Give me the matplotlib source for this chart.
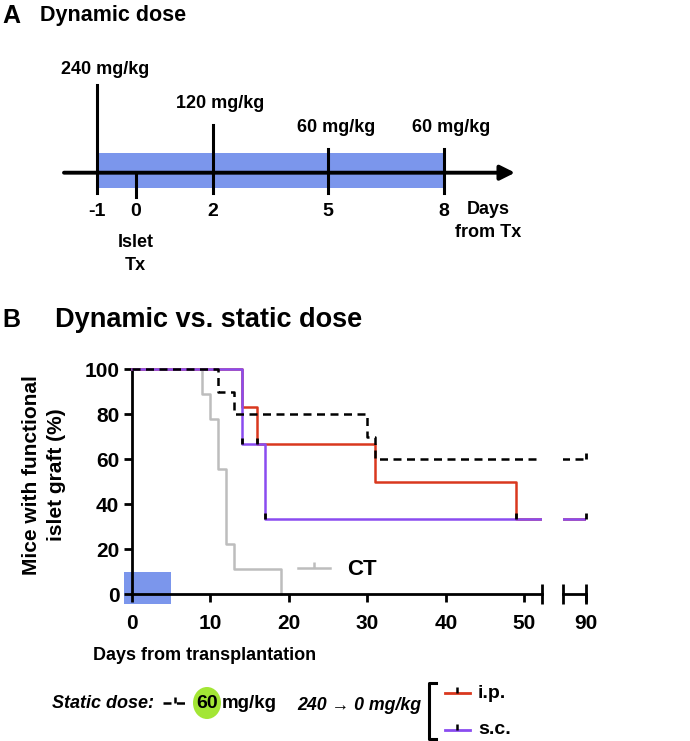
"""
Dynamic dose schedule (A) + Kaplan-Meier style graft survival (B)
"""
import matplotlib
matplotlib.use("Agg")
import matplotlib.pyplot as plt
from matplotlib.path import Path
from matplotlib.lines import Line2D
from matplotlib.patches import Ellipse, Rectangle

plt.rcParams['font.family'] = ['Liberation Sans', 'DejaVu Sans']
plt.rcParams['font.weight'] = 'bold'

# ---- data ----
# A: dosing schedule
dose_days = [-1, 2, 5, 8]
dose_values = [240, 120, 60, 60]
tx_day = 0
schedule_ticks = [-1, 0, 2, 5, 8]

# B: survival curves (step, % mice with functional graft)
ct_days = [0, 9, 10, 11, 12, 13, 19]
ct_surv = [100, 88.9, 77.8, 55.6, 22.2, 11.1, 0]
static_days = [0, 11, 13, 30, 31, 90]
static_surv = [100, 90, 80, 70, 60, 60]
ip_days = [0, 14, 16, 31, 49, 90]
ip_surv = [100, 83.3, 66.7, 50, 33.3, 33.3]
sc_days = [0, 14, 17, 90]
sc_surv = [100, 66.7, 33.3, 33.3]
# censored marks
static_cens = ([90], [60])
ip_cens = ([16, 49], [66.7, 33.3])
sc_cens = ([14, 17, 90], [66.7, 33.3, 33.3])
treat_window = (-1, 5)

x_ticks = [0, 10, 20, 30, 40, 50]
y_ticks = [0, 20, 40, 60, 80, 100]

# ---- style ----
BLUE = '#7b96ec'
RED = '#d9381e'
PURPLE = '#8a4cf0'
GRAY = '#bdbdbd'
GREEN = '#a3e635'
W, H = 690, 741

UPTICK = Path([(0, 0), (0, 1)])


def fx(x):
    return x / W


def fy(y):
    return 1 - y / H


fig = plt.figure(figsize=(W / 100, H / 100), dpi=100)

# ================= panel A =================
fig.text(fx(2), fy(16), 'A', fontsize=18, va='center', ha='left')
fig.text(fx(40), fy(16), 'Dynamic dose', fontsize=15.5, va='center', ha='left')

axa = fig.add_axes([0, fy(300), 1, 300 / H])
px_day = 38.5
x0 = -1 - 97 / px_day
axa.set_xlim(x0, x0 + W / px_day)
axa.set_ylim(300, 0)
axa.axis('off')

axis_y = 172.7
axa.fill_between([dose_days[0], dose_days[-1]], 153, 188, color=BLUE, lw=0, zorder=1)
axa.annotate('', xy=(x0 + 515 / px_day, axis_y), xytext=(x0 + 64 / px_day, axis_y),
             arrowprops=dict(arrowstyle='-|>', lw=2.8, color='k', mutation_scale=22,
                             shrinkA=0, shrinkB=0), zorder=3)
top_px = {240: 85, 120: 125, 60: 149}
label_px = {240: 70, 120: 103, 60: 127}
for d, v in zip(dose_days, dose_values):
    axa.plot([d, d], [top_px[v], 193], color='k', lw=2.2, zorder=4)
    axa.text(d + 0.2, label_px[v], f'{v} mg/kg', fontsize=13, ha='center', va='center')
axa.plot([tx_day, tx_day], [axis_y, 197], color='k', lw=2.2, zorder=4)
for t in schedule_ticks:
    axa.text(t, 212, str(t), fontsize=14, ha='center', va='center')
axa.text(tx_day, 254, 'Islet\nTx', fontsize=13, ha='center', va='center',
         linespacing=1.5)
axa.text(x0 + 488 / px_day, 221, 'Days\nfrom Tx', fontsize=13, ha='center', va='center',
         linespacing=1.5)

# ================= panel B =================
fig.text(fx(2), fy(320), 'B', fontsize=18, va='center', ha='left')
fig.text(fx(55), fy(320), 'Dynamic vs. static dose', fontsize=19.5, va='center', ha='left')

ax1 = fig.add_axes([fx(124), fy(604), (541.6 - 124) / W, (604 - 364.5) / H])
ax1.set_xlim(-1, 52.2)
ax1.set_ylim(-4.4, 102)
ax2 = fig.add_axes([fx(563), fy(604), 23 / W, (604 - 364.5) / H])
ax2.set_xlim(87, 90)
ax2.set_ylim(-4.4, 102)

for ax in (ax1, ax2):
    lo, hi = ax.get_xlim()
    ax.step(ct_days, ct_surv, where='post', color=GRAY, lw=1.8, zorder=2)
    ax.step(ip_days, ip_surv, where='post', color=RED, lw=1.8, zorder=3)
    ax.step(sc_days, sc_surv, where='post', color=PURPLE, lw=1.8, zorder=4)
    ax.step(static_days, static_surv, where='post', color='k', lw=1.8,
            ls=(0, (3.2, 2.2)), zorder=5)
    for cx, cy in (static_cens, ip_cens, sc_cens):
        pts = [(a, b) for a, b in zip(cx, cy) if lo <= a <= hi]
        if pts:
            ax.plot([p[0] for p in pts], [p[1] for p in pts], ls='none', marker=UPTICK,
                    ms=9, mec='k', mew=2, zorder=6, clip_on=False)
    for s in ('top', 'right'):
        ax.spines[s].set_visible(False)
    ax.spines['bottom'].set_position(('data', 0))
    ax.spines['bottom'].set_linewidth(2)
    ax.tick_params(axis='x', direction='out', length=6, width=2, labelsize=15, pad=8)

ax1.add_patch(Rectangle((treat_window[0], -4.4), treat_window[1] - treat_window[0], 14.4,
                        color=BLUE, lw=0, zorder=1, clip_on=False))
ax1.spines['left'].set_position(('data', 0))
ax1.spines['left'].set_bounds(0, 100)
ax1.spines['left'].set_linewidth(2)
ax1.spines['bottom'].set_bounds(0, 52.2)
ax1.set_xticks(x_ticks)
ax1.set_yticks(y_ticks)
ax1.tick_params(axis='y', direction='out', length=6, width=2, labelsize=15, pad=3)
ax1.plot([52.2], [0], marker='|', ms=14, mew=2, color='k', clip_on=False, zorder=7)

ax2.spines['left'].set_visible(False)
ax2.set_yticks([])
ax2.set_xticks([90])
ax2.spines['bottom'].set_bounds(87, 90)
ax2.plot([87], [0], marker='|', ms=14, mew=2, color='k', clip_on=False, zorder=7)
ax2.plot([90], [0], marker='|', ms=14, mew=2, color='k', clip_on=False, zorder=7)

fig.text(fx(205), fy(655), 'Days from transplantation', fontsize=13, ha='center', va='center')
fig.text(fx(44), fy(475), 'Mice with functional\nislet graft (%)', fontsize=15,
         ha='center', va='center', rotation=90, linespacing=1.45)

ct_handle = Line2D([], [], color=GRAY, lw=1.8, marker=UPTICK, ms=9, mec=GRAY, mew=1.8)
ax1.legend([ct_handle], ['CT'], loc='center left', bbox_to_anchor=(0.4167, 0.142),
           frameon=False, fontsize=16, handlelength=1.45, handletextpad=0.75,
           borderpad=0, borderaxespad=0)

# ================= bottom legend =================
axl = fig.add_axes([0, 0, 1, 101 / H])
axl.set_xlim(0, W)
axl.set_ylim(741, 640)
axl.axis('off')

axl.text(52, 703, 'Static dose:', fontsize=13, style='italic', ha='left', va='center')
axl.plot([163, 187], [703, 703], color='k', lw=1.8, ls=(0, (3.2, 2.2)))
axl.plot([175], [703], marker=UPTICK, ms=8, mec='k', mew=1.8)
axl.add_patch(Ellipse((207, 703), 28, 32, color=GREEN, lw=0))
axl.text(207, 703, str(dose_values[-1]), fontsize=14, ha='center', va='center')
axl.text(222, 703, 'mg/kg', fontsize=13.5, ha='left', va='center')
axl.text(421, 705, f'{dose_values[0]} \u2192 0 mg/kg', fontsize=12.8, style='italic',
         ha='right', va='center')
axl.plot([436, 429, 429, 436], [683, 683, 739, 739], color='k', lw=2.2)
for yy, col, lab in ((693, RED, 'i.p.'), (730, PURPLE, 's.c.')):
    axl.plot([445, 470], [yy, yy], color=col, lw=2)
    axl.plot([457], [yy], marker=UPTICK, ms=8, mec='k', mew=1.8)
    axl.text(478, yy, lab, fontsize=14, ha='left', va='center')

fig.savefig('out.png', dpi=100)
plt.close(fig)
